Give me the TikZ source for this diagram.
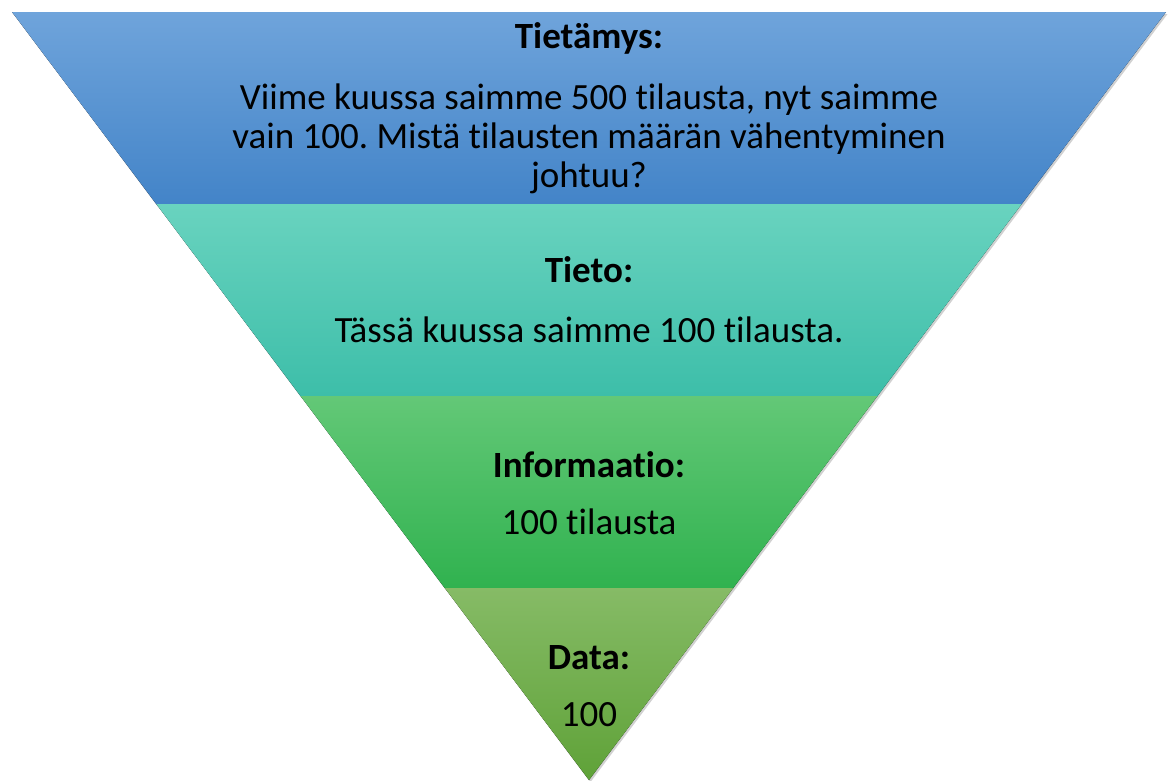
\documentclass[tikz,border=0pt]{standalone}
\usepackage{fontspec}
\setmainfont{Carlito}[Ligatures={NoCommon}]
\usetikzlibrary{calc}
\frenchspacing

\definecolor{tietamysTop}{HTML}{6FA4DB}
\definecolor{tietamysBot}{HTML}{4384C8}
\definecolor{tietoTop}{HTML}{69D3BF}
\definecolor{tietoBot}{HTML}{3DBEA9}
\definecolor{infoTop}{HTML}{63C877}
\definecolor{infoBot}{HTML}{30B24F}
\definecolor{dataTop}{HTML}{86BB66}
\definecolor{dataBot}{HTML}{5FA238}

\tikzset{
  label/.style={font=\fontsize{37}{39}\selectfont, align=center, inner sep=0pt},
  heading/.style={label, font=\fontsize{37}{39}\selectfont\bfseries},
}

\begin{document}
\begin{tikzpicture}[x=1pt, y=-1pt]
    \useasboundingbox (0,0) rectangle (1171,780);
    \coordinate (tl) at (12,12);
    \coordinate (tr) at (1166,12);
    \coordinate (ap) at (589,780);
    % shadow
    \fill[black, opacity=.18] ([shift={(1.5,2)}]tl) -- ([shift={(1.5,2)}]tr) -- ([shift={(1.5,2)}]ap) -- cycle;
    % bands
    \foreach \i/\ct/\cb in {0/tietamysTop/tietamysBot, 1/tietoTop/tietoBot,
                            2/infoTop/infoBot, 3/dataTop/dataBot} {
      \pgfmathtruncatemacro{\j}{\i+1}
      \fill[top color=\ct, bottom color=\cb]
        ($(tl)!\i/4!(ap)$) -- ($(tr)!\i/4!(ap)$) -- ($(tr)!\j/4!(ap)$) -- ($(tl)!\j/4!(ap)$) -- cycle;
    }
    % texts
    \node[heading] (tietamys) at (589,38) {Tietämys:};
    \node[label] (tietamysTxt) at (589,139) {Viime kuussa saimme 500 tilausta, nyt saimme\\
      vain 100. Mistä tilausten määrän vähentyminen\\ johtuu?};
    \node[heading] (tieto) at (589,270) {Tieto:};
    \node[label] (tietoTxt) at (589,330) {Tässä kuussa saimme 100 tilausta.};
    \node[heading] (info) at (589,465) {Informaatio:};
    \node[label] (infoTxt) at (589,522) {100 tilausta};
    \node[heading] (data) at (589,658) {Data:};
    \node[label] (dataTxt) at (589,715) {100};
\end{tikzpicture}
\end{document}
